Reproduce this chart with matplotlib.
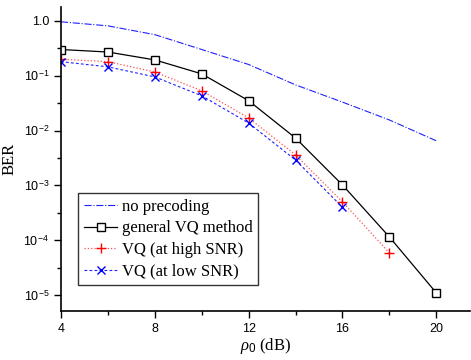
import numpy as np
import matplotlib
matplotlib.use("Agg")
import matplotlib.pyplot as plt
from matplotlib.ticker import FixedLocator, FixedFormatter, NullFormatter

# data
snr = [4, 6, 8, 10, 12, 14, 16, 18, 20]
ber_noprec = [0.96, 0.81, 0.56, 0.30, 0.16, 0.068, 0.033, 0.0156, 0.0065]
ber_general = [0.30, 0.27, 0.194, 0.108, 0.035, 0.0073, 0.00102, 1.15e-4, 1.1e-5]
snr_high = [4, 6, 8, 10, 12, 14, 16, 18]
ber_high = [0.20, 0.18, 0.117, 0.053, 0.017, 0.0036, 5.0e-4, 5.9e-5]
snr_low = [4, 6, 8, 10, 12, 14, 16]
ber_low = [0.18, 0.145, 0.095, 0.043, 0.0137, 0.0029, 4.0e-4]

yticks = [1.0, 1e-1, 1e-2, 1e-3, 1e-4, 1e-5]
ylabels = ["1.0", r"10$^{-1}$", r"10$^{-2}$", r"10$^{-3}$", r"10$^{-4}$", r"10$^{-5}$"]

plt.rcParams["mathtext.fontset"] = "custom"
plt.rcParams["mathtext.rm"] = "Liberation Sans"
plt.rcParams["mathtext.it"] = "Liberation Serif:italic"

fig = plt.figure(figsize=(4.71, 3.6), dpi=100)
ax = fig.add_axes([0.1295, 0.136, 0.869, 0.845])

ax.plot(snr, ber_noprec, color="#2020ff", ls="-.", lw=0.8, label="no precoding")
ax.plot(snr, ber_general, color="black", ls="-", lw=0.9, marker="s", ms=6,
        mfc="white", mec="black", mew=1.0, label="general VQ method")
ax.plot(snr_high, ber_high, color="#ff5050", ls=":", lw=0.9, marker="+", ms=7,
        mec="red", mew=1.0, label="VQ (at high SNR)")
ax.plot(snr_low, ber_low, color="#2020ff", ls="--", lw=0.8, dashes=(2.5, 2), marker="x", ms=6,
        mec="blue", mew=1.0, label="VQ (at low SNR)")

ax.set_yscale("log")
ax.set_xlim(4, 21.45)
ax.set_ylim(10**-5.29, 10**0.255)

ax.set_xticks([4, 8, 12, 16, 20])
ax.set_xticks([6, 10, 14, 18], minor=True)
ax.yaxis.set_major_locator(FixedLocator(yticks))
ax.yaxis.set_major_formatter(FixedFormatter(ylabels))
ax.yaxis.set_minor_locator(FixedLocator([10**-0.5, 10**-1.5, 10**-2.5, 10**-3.5, 10**-4.5]))
ax.yaxis.set_minor_formatter(NullFormatter())

for lab in ax.get_xticklabels() + ax.get_yticklabels():
    lab.set_fontfamily("Liberation Sans")
    lab.set_fontsize(9)

ax.tick_params(which="major", direction="out", length=5, width=1)
ax.tick_params(which="minor", direction="out", length=3, width=1)

ax.spines["top"].set_visible(False)
ax.spines["right"].set_visible(False)
ax.spines["left"].set_linewidth(1.2)
ax.spines["bottom"].set_linewidth(1.2)

ax.set_ylabel("BER", fontfamily="Liberation Serif", fontsize=12)
ax.set_xlabel(r"$\rho_0$ (dB)", fontfamily="Liberation Serif", fontsize=12, labelpad=1)

leg = ax.legend(loc="lower left", bbox_to_anchor=(0.042, 0.085), prop={"family": "Liberation Serif", "size": 12},
                frameon=True, fancybox=False, edgecolor="black", handlelength=2.0,
                handletextpad=0.25, borderpad=0.35, labelspacing=0.33, borderaxespad=0)
leg.get_frame().set_linewidth(1.0)

fig.savefig("out.png", dpi=100)
